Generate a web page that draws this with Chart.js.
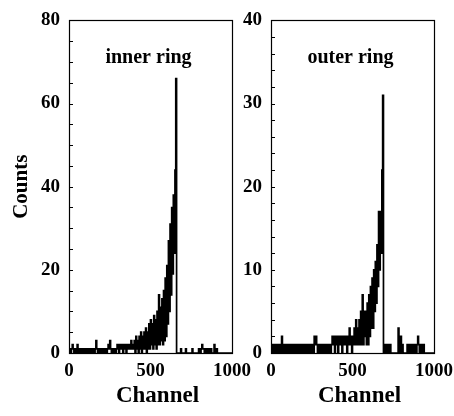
<!DOCTYPE html>
<html><head><meta charset="utf-8">
<script src="https://cdn.jsdelivr.net/npm/chart.js@4/dist/chart.umd.min.js"></script>
<style>
html,body{margin:0;padding:0;background:#fff;}
#wrap{position:relative;width:454px;height:416px;overflow:hidden;}
.c{position:absolute;top:0;height:416px;}
</style></head><body>
<div id="wrap">
<div class="c" style="left:0;width:260px"><canvas id="c1"></canvas></div>
<div class="c" style="left:240px;width:240px"><canvas id="c2"></canvas></div>
</div>
<script>
// ---- data (counts per 5-channel bin, channels 0..1000) ----
const binWidth = 5;
const innerCounts = [
  0,1,1,0,1,2,1,0,1,1,0,2,1,0,1,1,0,1,0,1,
  1,0,1,1,0,1,0,1,1,0,1,1,0,1,3,1,0,1,1,0,
  1,0,1,1,0,1,1,0,1,2,1,3,1,0,1,0,1,1,0,1,
  2,1,0,2,1,2,1,0,2,1,2,0,1,2,1,2,1,3,1,2,
  1,3,0,4,1,3,0,4,1,5,0,4,1,5,1,6,0,5,1,7,
  1,8,2,7,1,9,2,8,1,10,2,14,2,11,3,13,2,15,3,18,
  4,21,7,27,10,31,14,35,19,38,24,44,66,0,0,0,0,0,1,0,
  0,0,0,0,1,0,0,0,0,0,0,0,1,0,0,0,0,0,0,0,
  1,1,0,1,2,1,1,0,1,1,0,1,1,0,0,1,0,0,0,2,
  1,0,1,0,0,0,0,0,0,0,0,0,0,0,0,0,0,0,0,0
];
const outerCounts = [
  0,0,1,0,1,1,0,1,0,1,1,0,1,0,2,1,0,0,1,0,
  1,0,1,0,1,1,0,1,0,1,0,1,1,0,1,0,1,0,1,0,
  1,0,1,0,1,0,1,1,0,1,0,1,1,0,2,1,2,1,0,1,
  1,0,1,1,0,1,0,1,1,0,1,0,1,1,0,1,2,1,2,0,
  2,1,2,0,2,1,2,1,0,2,1,2,1,2,0,2,1,3,1,2,
  0,2,1,3,1,4,1,3,1,4,1,5,1,7,1,5,2,5,1,6,
  1,7,2,8,3,9,3,10,5,11,6,13,8,17,10,17,12,22,31,0,
  1,0,1,1,0,1,0,1,0,0,0,0,0,0,0,0,0,3,0,0,
  2,0,1,0,0,0,0,0,1,0,1,1,0,1,0,1,1,0,1,0,
  1,2,1,0,1,1,0,1,1,0,0,0,0,0,0,0,0,0,0,0
];
const xTicks = [0, 500, 1000];
const innerYTicks = [0, 20, 40, 60, 80];
const outerYTicks = [0, 10, 20, 30, 40];
const innerMinorStep = 5;
const outerMinorStep = 2;
const panelLabels = ['inner ring', 'outer ring'];
const xTitle = 'Channel';
const yTitle = 'Counts';

const FONT = '"Liberation Serif", "Times New Roman", serif';

const decor = {
  id: 'decor',
  afterDraw(chart, args, o) {
    const {ctx, chartArea: a, scales: {y}} = chart;
    ctx.save();
    ctx.strokeStyle = '#000';
    ctx.lineWidth = 1.2;
    ctx.strokeRect(Math.round(a.left) + 0.5, Math.round(a.top) + 0.5,
                   Math.round(a.right - a.left), Math.round(a.bottom - a.top));
    ctx.lineWidth = 1;
    ctx.beginPath();
    for (let v = y.min; v <= y.max; v += o.minorStep) {
      const py = Math.round(y.getPixelForValue(v)) + 0.5;
      ctx.moveTo(a.left, py);
      ctx.lineTo(a.left + 4, py);
    }
    ctx.stroke();
    ctx.fillStyle = '#000';
    ctx.textAlign = 'center';
    ctx.textBaseline = 'alphabetic';
    ctx.font = 'bold 20px ' + FONT;
    ctx.fillText(o.label, (a.left + a.right) / 2 - 2, a.top + 43);
    ctx.font = 'bold 23px ' + FONT;
    ctx.fillText(xTitle, (a.left + a.right) / 2 + 7, 402);
    if (o.showYTitle) {
      ctx.translate(26.5, (a.top + a.bottom) / 2);
      ctx.rotate(-Math.PI / 2);
      ctx.font = 'bold 21px ' + FONT;
      ctx.fillText(yTitle, 0, 0);
    }
    ctx.restore();
  }
};

function makeChart(id, counts, yTicks, minorStep, label, yAxisWidth, rightPad, showYTitle) {
  const pts = counts.map((v, i) => ({x: i * binWidth, y: v}));
  pts.push({x: 1000, y: 0});
  const tickFont = {family: FONT, size: 19, weight: 'bold'};
  return new Chart(document.getElementById(id), {
    type: 'line',
    data: {datasets: [{data: pts, stepped: 'after', borderColor: '#000', borderWidth: 1.7,
                       pointRadius: 0, fill: false, tension: 0}]},
    options: {
      responsive: true, maintainAspectRatio: false, animation: false,
      layout: {padding: {top: 11, right: rightPad, left: 0, bottom: 0}},
      plugins: {legend: {display: false}, tooltip: {enabled: false},
                decor: {minorStep, label, showYTitle}},
      scales: {
        x: {type: 'linear', min: 0, max: 1000,
            afterBuildTicks: s => { s.ticks = xTicks.map(v => ({value: v})); },
            grid: {display: false, drawTicks: false}, border: {display: false},
            ticks: {font: tickFont, color: '#000', padding: 7, maxRotation: 0, autoSkip: false,
                    callback: v => String(v)},
            afterFit: s => { s.height = 63; }},
        y: {type: 'linear', min: yTicks[0], max: yTicks[yTicks.length - 1],
            afterBuildTicks: s => { s.ticks = yTicks.map(v => ({value: v})); },
            grid: {display: false, drawTicks: false}, border: {display: false},
            ticks: {font: tickFont, color: '#000', padding: 9, autoSkip: false,
                    callback: v => String(v)},
            afterFit: s => { s.width = yAxisWidth; }}
      }
    },
    plugins: [decor]
  });
}

makeChart('c1', innerCounts, innerYTicks, innerMinorStep, panelLabels[0], 69, 28, true);
makeChart('c2', outerCounts, outerYTicks, outerMinorStep, panelLabels[1], 31, 46, false);
</script>
</body></html>
